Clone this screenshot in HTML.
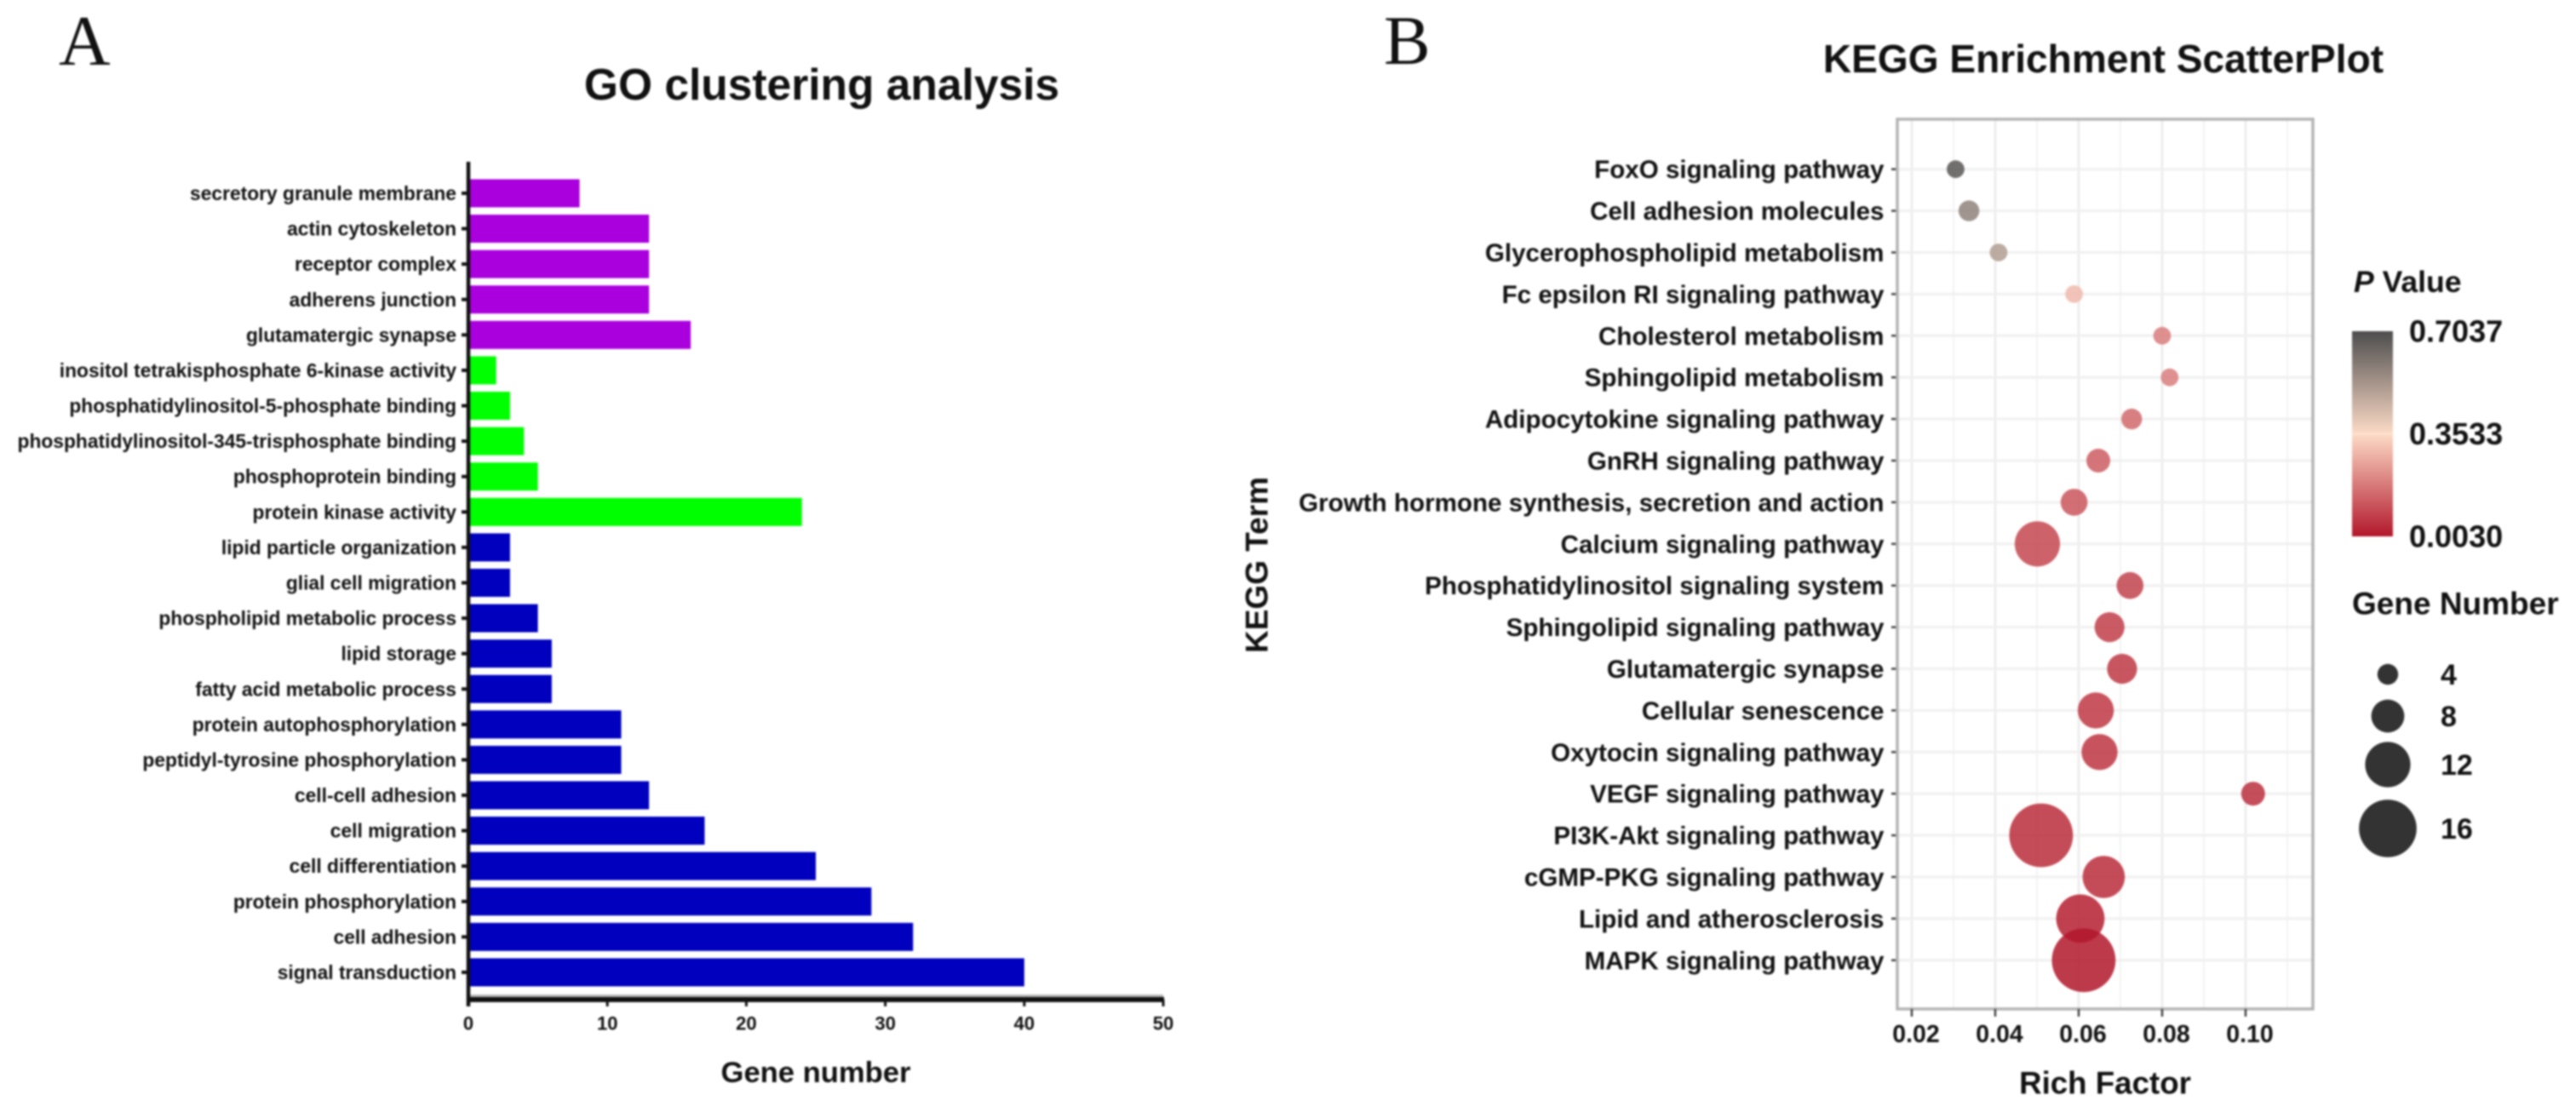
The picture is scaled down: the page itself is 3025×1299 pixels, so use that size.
<!DOCTYPE html>
<html lang="en">
<head>
<meta charset="utf-8">
<title>GO clustering and KEGG enrichment</title>
<style>
html,body{margin:0;padding:0;background:#fff;width:3025px;height:1299px;overflow:hidden}
svg{display:block;filter:blur(1.15px)}
text{font-family:"Liberation Sans",Arial,sans-serif;font-weight:bold;fill:#111}
</style>
</head>
<body>
<svg id="figure" xmlns="http://www.w3.org/2000/svg" width="3025" height="1299" viewBox="0 0 3025 1299">
<defs>
<linearGradient id="pvalue-gradient" x1="0" y1="0" x2="0" y2="1">
<stop offset="0" stop-color="#4D4D4D"/>
<stop offset="0.5" stop-color="#FDDBC7"/>
<stop offset="1" stop-color="#B2182B"/>
</linearGradient>
</defs>
<rect x="0" y="0" width="3025" height="1299" fill="#fff"/>
<text x="69" y="76" font-size="84" style="font-family:'Liberation Serif',serif;font-weight:normal">A</text>
<text x="1625" y="75" font-size="82" style="font-family:'Liberation Serif',serif;font-weight:normal">B</text>
<text x="965" y="99" font-size="51.5" text-anchor="middle" dominant-baseline="central">GO clustering analysis</text>
<text x="958" y="1260" font-size="34.6" text-anchor="middle" dominant-baseline="central">Gene number</text>
<text x="2470" y="69" font-size="46.1" text-anchor="middle" dominant-baseline="central">KEGG Enrichment ScatterPlot</text>
<text x="2472" y="1272" font-size="36.7" text-anchor="middle" dominant-baseline="central">Rich Factor</text>
<text transform="translate(1476 663.5) rotate(-90)" font-size="37" text-anchor="middle" dominant-baseline="central">KEGG Term</text>
<text x="2764" y="331" font-size="35.6" dominant-baseline="central"><tspan font-style="italic">P</tspan> Value</text>
<rect x="2762" y="389" width="48" height="241" fill="url(#pvalue-gradient)"/>
<text x="2762" y="709" font-size="37" dominant-baseline="central">Gene Number</text>
<g id="go-chart"></g>
<g id="kegg-chart"></g>
<g id="legend"></g>
</svg>
<script>
// ---- Panel A data ----
const goTerms = ["secretory granule membrane","actin cytoskeleton","receptor complex","adherens junction","glutamatergic synapse","inositol tetrakisphosphate 6-kinase activity","phosphatidylinositol-5-phosphate binding","phosphatidylinositol-345-trisphosphate binding","phosphoprotein binding","protein kinase activity","lipid particle organization","glial cell migration","phospholipid metabolic process","lipid storage","fatty acid metabolic process","protein autophosphorylation","peptidyl-tyrosine phosphorylation","cell-cell adhesion","cell migration","cell differentiation","protein phosphorylation","cell adhesion","signal transduction"];
const goCounts = [8,13,13,13,16,2,3,4,5,24,3,3,5,6,6,11,11,13,17,25,29,32,40];
const goCategories = ["cc","cc","cc","cc","cc","mf","mf","mf","mf","mf","bp","bp","bp","bp","bp","bp","bp","bp","bp","bp","bp","bp","bp"];
const goTicks = [0,10,20,30,40,50];

// ---- Panel B data ----
const keggTerms = ["FoxO signaling pathway","Cell adhesion molecules","Glycerophospholipid metabolism","Fc epsilon RI signaling pathway","Cholesterol metabolism","Sphingolipid metabolism","Adipocytokine signaling pathway","GnRH signaling pathway","Growth hormone synthesis, secretion and action","Calcium signaling pathway","Phosphatidylinositol signaling system","Sphingolipid signaling pathway","Glutamatergic synapse","Cellular senescence","Oxytocin signaling pathway","VEGF signaling pathway","PI3K-Akt signaling pathway","cGMP-PKG signaling pathway","Lipid and atherosclerosis","MAPK signaling pathway"];
const richFactor = [0.0305,0.0337,0.0408,0.0589,0.08,0.0818,0.0727,0.0647,0.0589,0.0501,0.0723,0.0674,0.0704,0.0641,0.065,0.1018,0.051,0.066,0.0604,0.0612];
const geneNumber = [3,4,3,3,3,3,4,5,6,12,6,7,7,9,9,5,18,11,13,18];
const pValue = [0.68,0.572,0.507,0.294,0.185,0.185,0.148,0.127,0.115,0.085,0.08,0.072,0.06,0.058,0.055,0.045,0.04,0.04,0.015,0.003];
const richTicks = [0.02,0.04,0.06,0.08,0.10];
const richMinorTicks = [0.03,0.05,0.07,0.09,0.11];
const pLegendValues = [0.7037,0.3533,0.0030];
const sizeLegendValues = [4,8,12,16];

const NS = "http://www.w3.org/2000/svg";
function mk(tag, attrs, parent, txt) {
  const el = document.createElementNS(NS, tag);
  for (const k in attrs) el.setAttribute(k, attrs[k]);
  if (txt !== undefined) el.textContent = txt;
  parent.appendChild(el);
  return el;
}

// ---- Panel A scales ----
const goX = v => 550 + v * 16.32;
const goY = i => 227 + i * 41.59;
const goColors = {cc:"#AA00DD", mf:"#00FF00", bp:"#0000BE"};
const goG = document.getElementById("go-chart");

goTerms.forEach((term, i) => {
  const bar = mk("rect", {x:goX(0), y:goY(i)-16.5, width:goX(goCounts[i])-goX(0), height:33, fill:goColors[goCategories[i]]}, goG);
  
  
  const tick = mk("line", {x1:542, x2:goX(0), y1:goY(i), y2:goY(i), stroke:"#111", "stroke-width":4}, goG);
  
  
  const label = mk("text", {x:536, y:goY(i), "font-size":22.8, "text-anchor":"end", "dominant-baseline":"central"}, goG, term);
  
  
});
const goShadow = mk("line", {x1:goX(0), x2:goX(50), y1:1169.5, y2:1169.5, stroke:"#bbb", "stroke-width":3}, goG);


const goXAxis = mk("line", {x1:goX(0)-2, x2:goX(50)+1, y1:1174, y2:1174, stroke:"#111", "stroke-width":6}, goG);


const goYAxis = mk("line", {x1:goX(0), x2:goX(0), y1:190, y2:1182, stroke:"#111", "stroke-width":4.5}, goG);


goTicks.forEach(t => {
  const tk = mk("line", {x1:goX(t), x2:goX(t), y1:1174, y2:1182, stroke:"#111", "stroke-width":3}, goG);
  
  
  const lb = mk("text", {x:goX(t), y:1202, "font-size":22, "text-anchor":"middle", "dominant-baseline":"central"}, goG, String(t));
  
  
});

// ---- Panel B scales ----
const kX = v => 2245 + (v - 0.02) * 4900;
const kY = i => 198.7 + i * 48.9;
const kR = n => 5 + 1.8 * n;
const hex = [[77,77,77],[253,219,199],[178,24,43]];
function kColor(p) {
  const mid = 0.3533, lo = 0.003, hi = 0.7037;
  let a, b, t;
  if (p >= mid) { a = hex[1]; b = hex[0]; t = (p - mid) / (hi - mid); }
  else { a = hex[1]; b = hex[2]; t = (mid - p) / (mid - lo); }
  t = Math.max(0, Math.min(1, t));
  const c = a.map((x, j) => Math.round(x + (b[j] - x) * t));
  return "rgb(" + c.join(",") + ")";
}
const kG = document.getElementById("kegg-chart");
const PL = 2228, PR = 2716, PT = 140, PB = 1185;

richMinorTicks.forEach(t => {
  const g = mk("line", {x1:kX(t), x2:kX(t), y1:PT, y2:PB, stroke:"#f2f2f2", "stroke-width":2}, kG);
  
  
});
richTicks.forEach(t => {
  const g = mk("line", {x1:kX(t), x2:kX(t), y1:PT, y2:PB, stroke:"#ebebeb", "stroke-width":2.5}, kG);
  
  
});
keggTerms.forEach((term, i) => {
  const g = mk("line", {x1:PL, x2:PR, y1:kY(i), y2:kY(i), stroke:"#f0f0f0", "stroke-width":3}, kG);
  
  
  const tk = mk("line", {x1:2221, x2:PL, y1:kY(i), y2:kY(i), stroke:"#444", "stroke-width":2.5}, kG);
  
  
  const lb = mk("text", {x:2212.5, y:kY(i)+1, "font-size":29.6, "text-anchor":"end", "dominant-baseline":"central"}, kG, term);
  
  
});
const panel = mk("rect", {x:PL, y:PT, width:PR-PL, height:PB-PT, fill:"none", stroke:"#b4b4b4", "stroke-width":3.5}, kG);


keggTerms.forEach((term, i) => {
  const dot = mk("circle", {cx:kX(richFactor[i]), cy:kY(i), r:kR(geneNumber[i]), fill:kColor(pValue[i]), "fill-opacity":0.85}, kG);
  
  
});
richTicks.forEach(t => {
  const tk = mk("line", {x1:kX(t), x2:kX(t), y1:PB, y2:PB+9, stroke:"#444", "stroke-width":2.5}, kG);
  
  
  const lb = mk("text", {x:kX(t)+5, y:1215, "font-size":28.5, "text-anchor":"middle", "dominant-baseline":"central"}, kG, t.toFixed(2));
  
  
});

// ---- Legends ----
const lG = document.getElementById("legend");
const cbY = p => 630 - (p - 0.003) / (0.7037 - 0.003) * 241;
pLegendValues.forEach(p => {
  const lb = mk("text", {x:2829, y:cbY(p), "font-size":36, "dominant-baseline":"central"}, lG, p.toFixed(4));
  
  
});
const midTick = mk("line", {x1:2762, x2:2810, y1:cbY(0.3533), y2:cbY(0.3533), stroke:"#fff", "stroke-width":1, "stroke-opacity":0.35}, lG);


const sizeLegendY = [792, 841, 898, 973];
sizeLegendValues.forEach((n, i) => {
  const c = mk("circle", {cx:2804, cy:sizeLegendY[i], r:kR(n), fill:"#333"}, lG);
  
  
  const lb = mk("text", {x:2866, y:sizeLegendY[i]+1, "font-size":34, "dominant-baseline":"central"}, lG, String(n));
  
  
});
</script>
</body>
</html>
